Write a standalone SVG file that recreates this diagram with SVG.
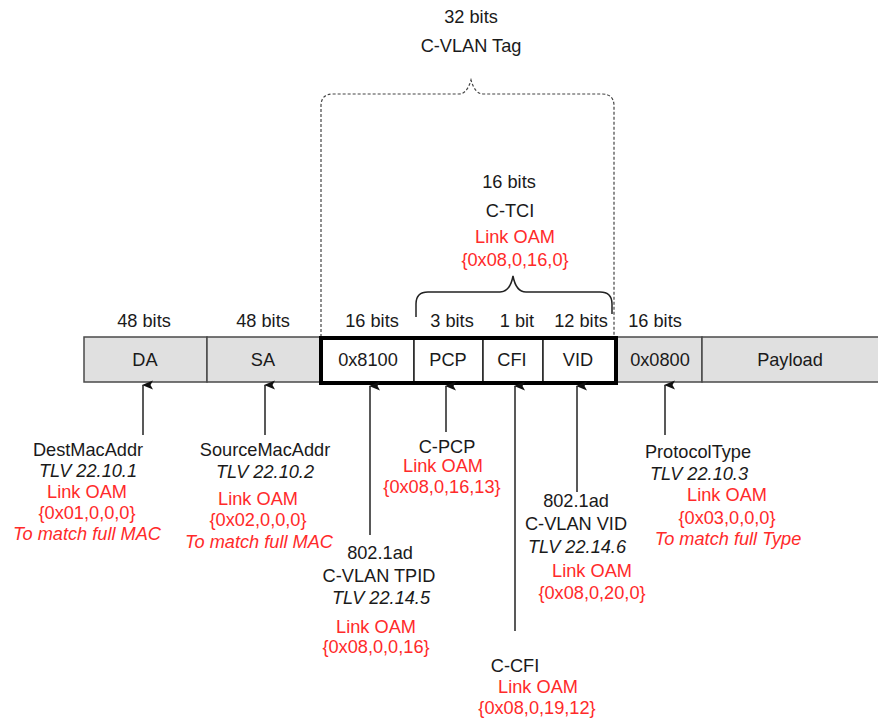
<svg xmlns="http://www.w3.org/2000/svg" width="878" height="725" viewBox="0 0 878 725">
<defs>
<marker id="ah" markerWidth="10" markerHeight="12" refX="5" refY="1" orient="auto-start-reverse" markerUnits="userSpaceOnUse" viewBox="0 0 10 12">
<path d="M5,0 L9.5,11 L5,8.5 L0.5,11 Z" fill="#111"/>
</marker>
</defs>
<style>
text{font-family:"Liberation Sans",Arial,sans-serif;font-size:18.2px;fill:#1a1a1a;text-anchor:middle}
.r{fill:#ff2a2a}
.i{font-style:italic}
.g{fill:#e0e0e0;stroke:#4a4a4a;stroke-width:1.5}
.w{fill:#fff;stroke:#222;stroke-width:1.5}
.c{stroke:#222;stroke-width:1.5;fill:none}
.d{stroke:#444;stroke-width:1.2;stroke-dasharray:3,2;fill:none}
</style>
<rect width="878" height="725" fill="#fff"/>

<g id="tag-brace">
<path class="d" d="M321,337 V106 Q321,94 333,94 H459 Q467,94 471,80 Q475,94 483,94 H602 Q614,94 614,106 V337"/>
<text x="471" y="23">32 bits</text>
<text x="471" y="52">C-VLAN Tag</text>
</g>

<g id="tci-brace">
<path class="c" d="M416,317 V304 Q416,292 428,292 H500 Q510,292 513,276 Q516,292 526,292 H600 Q612,292 612,304 V314"/>
<text x="509" y="188">16 bits</text>
<text x="510" y="217">C-TCI</text>
<text class="r" x="515" y="243">Link OAM</text>
<text class="r" x="515" y="266">{0x08,0,16,0}</text>
</g>

<g id="DA">
<rect class="g" x="84" y="337" width="123" height="45"/>
<text x="145" y="366">DA</text>
<text x="144" y="327">48 bits</text>
</g>
<g id="SA">
<rect class="g" x="207" y="337" width="114" height="45"/>
<text x="263" y="366">SA</text>
<text x="263" y="327">48 bits</text>
</g>
<g id="type">
<rect class="g" x="616" y="337" width="86" height="45"/>
<text x="660" y="366">0x0800</text>
<text x="655" y="327">16 bits</text>
</g>
<g id="payload">
<rect class="g" x="702" y="337" width="180" height="45"/>
<text x="790" y="366">Payload</text>
</g>
<g id="tpid">
<rect class="w" x="321" y="338" width="93" height="44"/>
<text x="368" y="366">0x8100</text>
<text x="372" y="327">16 bits</text>
</g>
<g id="pcp">
<rect class="w" x="414" y="338" width="69" height="44"/>
<text x="448" y="366">PCP</text>
<text x="452" y="327">3 bits</text>
</g>
<g id="cfi">
<rect class="w" x="483" y="338" width="60" height="44"/>
<text x="512" y="366">CFI</text>
<text x="517" y="327">1 bit</text>
</g>
<g id="vid">
<rect class="w" x="543" y="338" width="73" height="44"/>
<text x="578" y="366">VID</text>
<text x="581" y="327">12 bits</text>
</g>
<g id="tag-outline">
<rect x="321" y="338" width="295" height="45" fill="none" stroke="#000" stroke-width="4"/>
</g>

<g id="connectors">
<line class="c" x1="143" y1="435" x2="143" y2="385" marker-end="url(#ah)"/>
<line class="c" x1="265" y1="435" x2="265" y2="385" marker-end="url(#ah)"/>
<line class="c" x1="370" y1="535" x2="370" y2="386" marker-end="url(#ah)"/>
<line class="c" x1="446" y1="432" x2="446" y2="386" marker-end="url(#ah)"/>
<line class="c" x1="515" y1="631" x2="515" y2="386" marker-end="url(#ah)"/>
<line class="c" x1="577" y1="492" x2="577" y2="386" marker-end="url(#ah)"/>
<line class="c" x1="665" y1="435" x2="665" y2="385" marker-end="url(#ah)"/>
</g>

<g id="lbl-da">
<text x="88" y="456">DestMacAddr</text>
<text class="i" x="88" y="477">TLV 22.10.1</text>
<text class="r" x="87" y="498">Link OAM</text>
<text class="r" x="87" y="519">{0x01,0,0,0}</text>
<text class="r i" x="87" y="540">To match full MAC</text>
</g>
<g id="lbl-sa">
<text x="265" y="456">SourceMacAddr</text>
<text class="i" x="265" y="478">TLV 22.10.2</text>
<text class="r" x="258" y="505">Link OAM</text>
<text class="r" x="258" y="526">{0x02,0,0,0}</text>
<text class="r i" x="259" y="548">To match full MAC</text>
</g>
<g id="lbl-pcp">
<text x="447" y="453">C-PCP</text>
<text class="r" x="443" y="472">Link OAM</text>
<text class="r" x="442" y="493">{0x08,0,16,13}</text>
</g>
<g id="lbl-tpid">
<text x="380" y="559">802.1ad</text>
<text x="379" y="582">C-VLAN TPID</text>
<text class="i" x="381" y="604">TLV 22.14.5</text>
<text class="r" x="376" y="633">Link OAM</text>
<text class="r" x="376" y="653">{0x08,0,0,16}</text>
</g>
<g id="lbl-cfi">
<text x="515" y="672">C-CFI</text>
<text class="r" x="538" y="693">Link OAM</text>
<text class="r" x="537" y="714">{0x08,0,19,12}</text>
</g>
<g id="lbl-vid">
<text x="576" y="507">802.1ad</text>
<text x="576" y="530">C-VLAN VID</text>
<text class="i" x="577" y="553">TLV 22.14.6</text>
<text class="r" x="592" y="577">Link OAM</text>
<text class="r" x="592" y="599">{0x08,0,20,0}</text>
</g>
<g id="lbl-type">
<text x="698" y="458">ProtocolType</text>
<text class="i" x="699" y="480">TLV 22.10.3</text>
<text class="r" x="727" y="501">Link OAM</text>
<text class="r" x="727" y="524">{0x03,0,0,0}</text>
<text class="r i" x="728" y="545">To match full Type</text>
</g>
</svg>
